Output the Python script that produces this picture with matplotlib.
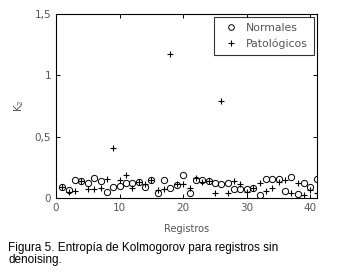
import numpy as np
import matplotlib
matplotlib.use("Agg")
import matplotlib.pyplot as plt

registros = np.arange(1, 42)
normales = [0.094, 0.067, 0.152, 0.142, 0.128, 0.166, 0.139, 0.053, 0.088, 0.099,
            0.126, 0.126, 0.131, 0.094, 0.147, 0.040, 0.147, 0.080, 0.104, 0.187,
            0.045, 0.147, 0.147, 0.142, 0.126, 0.120, 0.126, 0.072, 0.072, 0.072,
            0.080, 0.027, 0.155, 0.155, 0.155, 0.061, 0.174, 0.035, 0.126, 0.088,
            0.155]
patologicos = [0.094, 0.053, 0.059, 0.142, 0.075, 0.075, 0.080, 0.158, 0.410, 0.147,
               0.193, 0.080, 0.131, 0.112, 0.147, 0.067, 0.075, 1.175, 0.120, 0.120,
               0.080, 0.168, 0.134, 0.142, 0.045, 0.790, 0.040, 0.142, 0.120, 0.053,
               0.080, 0.126, 0.061, 0.080, 0.134, 0.147, 0.040, 0.126, 0.027, 0.067,
               0.045]
yticks = [0, 0.5, 1, 1.5]
ytick_labels = ["0", "0,5", "1", "1,5"]
xticks = [0, 10, 20, 30, 40]

gray = "#555555"
fig = plt.figure(figsize=(3.5, 2.8), dpi=100)
ax = fig.add_axes([0.16, 0.292, 0.745, 0.658])

ax.plot(registros, normales, "o", mfc="none", mec="black", ms=4.5, mew=0.7, label="Normales")
ax.plot(registros, patologicos, "+", color="black", ms=5, mew=0.8, label="Patológicos")

ax.set_xlim(0, 41)
ax.set_ylim(0, 1.5)
ax.set_xticks(xticks)
ax.set_yticks(yticks)
ax.set_yticklabels(ytick_labels)
ax.tick_params(direction="in", top=True, right=True, length=3, width=0.7,
               labelsize=7.5, labelcolor=gray, color="black")
for s in ax.spines.values():
    s.set_linewidth(0.8)
ax.set_xlabel("Registros", fontsize=7, color=gray, labelpad=8)
ax.set_ylabel("K$_2$", fontsize=7.5, color=gray, labelpad=6)

leg = ax.legend(loc="upper right", fontsize=7.8, frameon=True, fancybox=False,
                edgecolor="black", handletextpad=0.4, borderpad=0.55,
                labelspacing=0.45, handlelength=2.0, borderaxespad=0.3,
                markerscale=0.9)
leg.get_frame().set_linewidth(0.8)
for t in leg.get_texts():
    t.set_color(gray)

fig.text(0.023, 0.135, "Figura 5. Entropía de Kolmogorov para registros sin\ndenoising.",
         fontsize=8.5, family="Liberation Sans", va="top", ha="left", linespacing=1.0)

fig.savefig("out.png", dpi=100)
